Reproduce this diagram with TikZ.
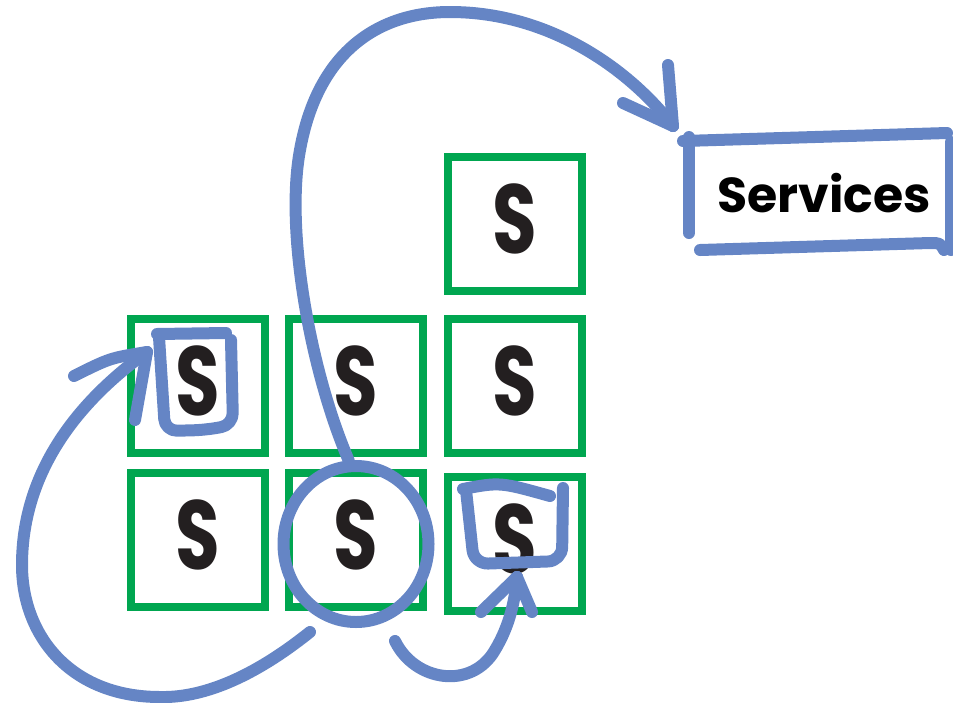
\documentclass[tikz,border=0pt]{standalone}
\usepackage{fontspec}
\setmainfont{Poppins}
\newfontfamily\narrowS[FakeStretch=0.74]{Poppins Bold}
\usetikzlibrary{shapes.geometric}
\definecolor{gbox}{HTML}{00A650}
\definecolor{bline}{HTML}{6585C5}
\definecolor{ink}{HTML}{231F20}
\tikzset{
  sbox/.style={draw=gbox, line width=7.5pt, minimum width=134pt, minimum height=134pt,
    inner sep=0pt, text depth=10pt, font=\narrowS\fontsize{98}{98}\selectfont, text=ink},
  pen/.style={draw=bline, line width=12pt, line cap=round, line join=round},
}
\begin{document}
\begin{tikzpicture}[x=1pt,y=-1pt]
\useasboundingbox (0,0) rectangle (953,702);
% green boxes
\node[sbox] (t3) at (515,224) {S};
\node[sbox] (m1) at (198,386) {S};
\node[sbox] (m2) at (356,386) {S};
\node[sbox] (m3) at (515,386) {S};
\node[sbox] (b1) at (198,540) {S};
\node[sbox] (b2) at (356,540) {S};
\node[sbox] (b3) at (515,544) {S};
% services
\node[font=\fontsize{49}{49}\selectfont\bfseries, text=black] (svc) at (824,193) {Services};
\path[pen] (683,141) -- (947,133);
\path[pen] (689,137) -- (689,233);
\path[pen] (700,250) -- (930,243) .. controls (940,243) .. (944,250);
\path[pen] (951,142) -- (951,250);
% ring around b2
\node[draw=bline, line width=12pt, ellipse, inner sep=0pt, minimum width=145pt, minimum height=156pt] (ring) at (356,544) {};
% square around m1 S
\path[pen] (157,334) -- (226,333);
\path[pen, rounded corners=12pt] (159,337) -- (165,431) -- (205,430) -- (233,425) -- (231,340);
% cup around b3 S
\path[pen] (463,489) .. controls (500,482) .. (550,496);
\path[pen, rounded corners=14pt] (466,490) -- (474,564) -- (562,561) -- (563,488);
% big arrow to services
\coordinate (tipA) at (673,126);
\path[pen] (ring.95) .. controls (310,370) and (285,230) .. (300,150)
  .. controls (318,50) and (380,12) .. (450,12)
  .. controls (550,12) and (630,70) .. (tipA);
\path[pen] (tipA) -- (668,65);
\path[pen] (tipA) -- (623,103);
% left loop arrow to m1
\coordinate (startB) at (310,632);
\coordinate (tipB) at (147,352);
\path[pen] (startB) .. controls (250,680) and (200,698) .. (160,697)
  .. controls (70,697) and (22,635) .. (22,565)
  .. controls (22,470) and (80,400) .. (tipB);
\path[pen] (tipB) .. controls (110,358) .. (74,376);
\path[pen] (tipB) -- (135,420);
% small arrow into b3 cup
\coordinate (startC) at (395,641);
\coordinate (tipC) at (517,577);
\path[pen] (startC) .. controls (415,682) and (472,690) .. (495,650)
  .. controls (510,625) and (515,600) .. (tipC);
\path[pen] (tipC) -- (481,612);
\path[pen] (tipC) -- (532,612);
\end{tikzpicture}
\end{document}
